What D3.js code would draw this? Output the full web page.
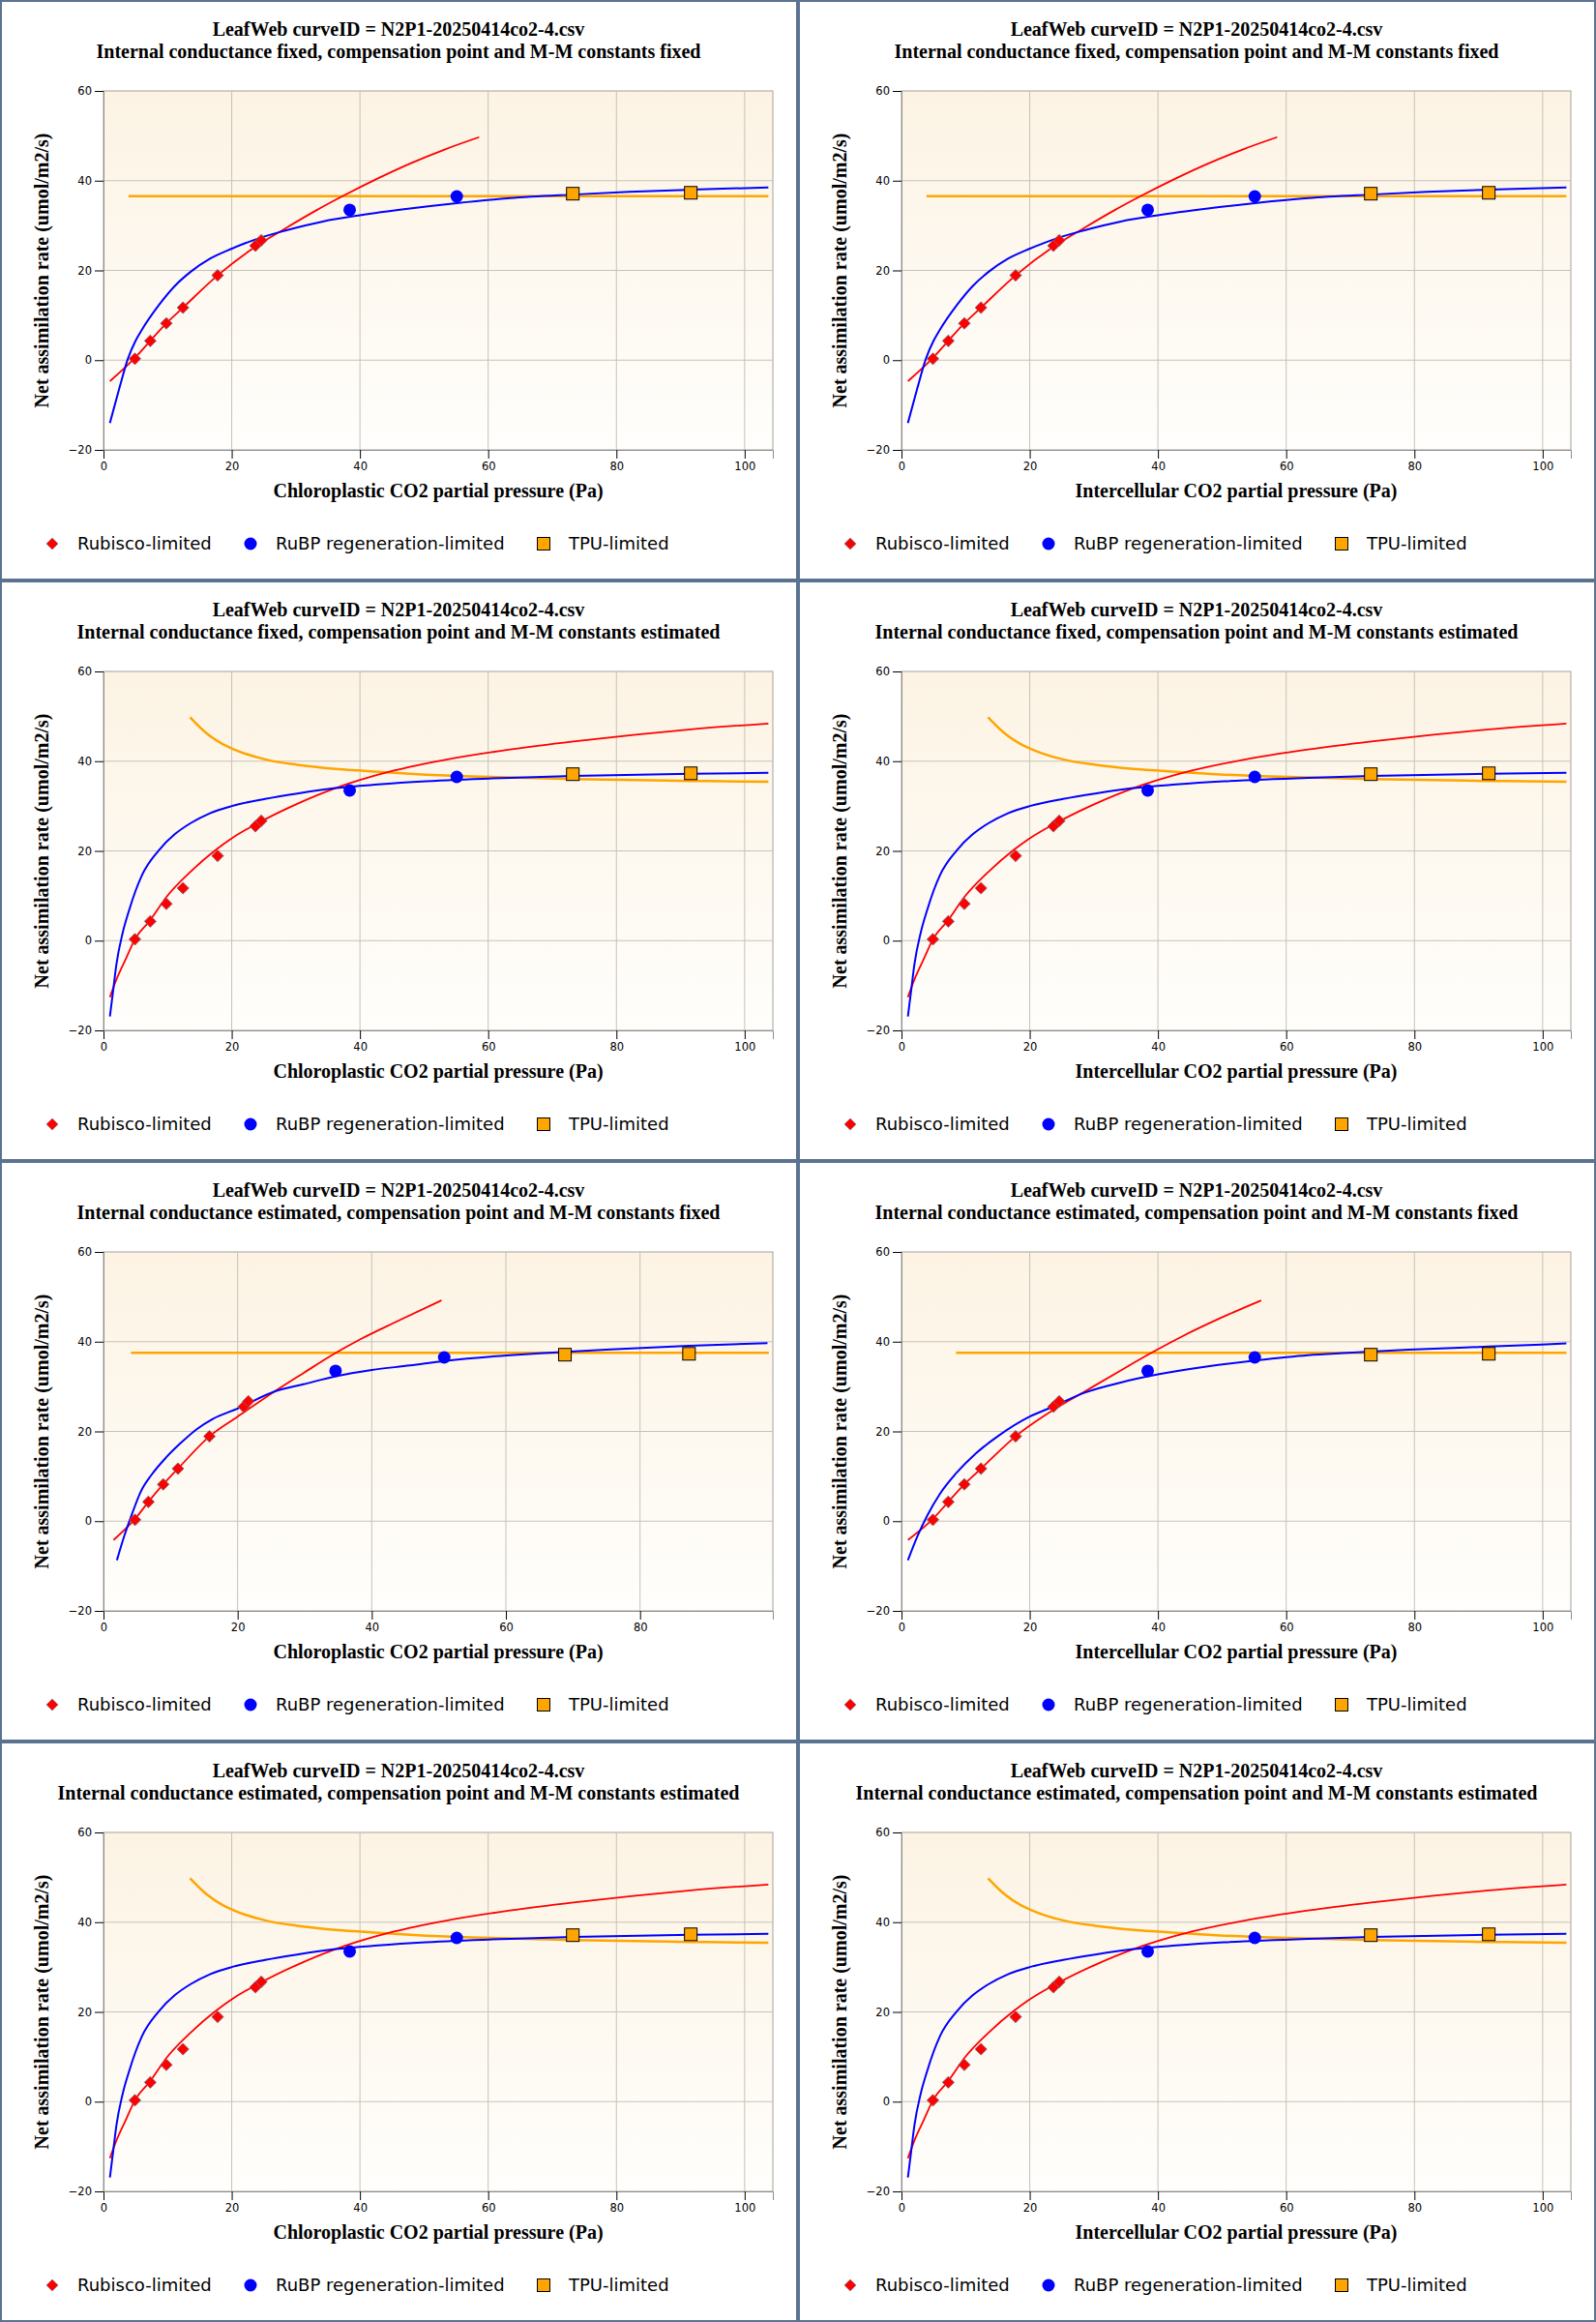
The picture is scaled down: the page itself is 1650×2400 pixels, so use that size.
<!DOCTYPE html>
<html>
<head>
<meta charset="utf-8">
<script src="https://cdn.jsdelivr.net/npm/d3@7"></script>
<style>
  body { margin: 0; padding: 0; background: #fff; }
  svg { display: block; }
</style>
</head>
<body>
<div id="chart"></div>
<script>
"use strict";

const pageW = 1650;
const pageH = 2400;
const panelW = 825;
const panelH = 600;

const titleTop = "LeafWeb curveID = N2P1-20250414co2-4.csv";
const fitTitles = [
  "Internal conductance fixed, compensation point and M-M constants fixed",
  "Internal conductance fixed, compensation point and M-M constants estimated",
  "Internal conductance estimated, compensation point and M-M constants fixed",
  "Internal conductance estimated, compensation point and M-M constants estimated",
];
const xTitles = [
  "Chloroplastic CO2 partial pressure (Pa)",
  "Intercellular CO2 partial pressure (Pa)",
];
const yTitle = "Net assimilation rate (umol/m2/s)";
const legendNames = ["Rubisco-limited", "RuBP regeneration-limited", "TPU-limited"];
const yTicks = [-20, 0, 20, 40, 60];
const xTicks = [0, 20, 40, 60, 80, 100];

// measured points (A is the same in every panel, only the x changes)
const rubiscoA = [0.3, 4.3, 8.2, 11.7, 18.9, 25.5, 26.7];
const rubpA = [33.5, 36.5];
const tpuA = [37.1, 37.3];
const rubiscoCi = [4.9, 7.3, 9.8, 12.4, 17.8, 23.7, 24.6];
const rubpCi = [38.4, 55.1];
const tpuCi = [73.2, 91.6];
const rubiscoCcGm = [4.7, 6.7, 8.9, 11.1, 15.8, 20.9, 21.6];
const rubpCcGm = [34.6, 50.8];
const tpuCcGm = [68.8, 87.3];

// fitted curves, [x, A]
const redFixed = [[1.0, -4.7], [4.9, 0.5], [7.3, 4.3], [9.8, 8.2], [12.4, 11.7], [17.8, 18.9],
  [23.7, 25.3], [28.4, 29.4], [33.2, 33.4], [37.5, 36.7], [42.8, 40.5], [47.8, 43.8],
  [53.3, 47.0], [58.6, 49.7]];
const blueFixed = [[1.0, -14.0], [2.5, -6.1], [3.8, 0.3], [5.0, 4.3], [6.0, 6.8], [8.6, 12.2],
  [11.1, 16.5], [13.6, 19.7], [16.6, 22.6], [20.1, 24.9], [24.1, 27.1], [28.4, 28.9],
  [34.2, 30.9], [40.0, 32.3], [47.8, 33.8], [55.1, 35.0], [63.4, 36.1], [73.2, 36.9],
  [82.0, 37.5], [91.6, 38.0], [103.7, 38.5]];
const orangeFixed = [[3.9, 36.55], [103.7, 36.55]];

const redEst = [[1.0, -12.6], [2.0, -8.7], [3.5, -4.0], [4.9, 0.3], [7.3, 4.6], [9.8, 9.7],
  [13.6, 15.4], [17.4, 20.1], [20.0, 22.8], [24.6, 26.6], [30.2, 30.5], [36.2, 34.0],
  [40.0, 35.8], [45.3, 37.9], [53.3, 40.3], [63.4, 42.6], [73.3, 44.4], [83.0, 45.9],
  [91.6, 47.1], [103.7, 48.4]];
const blueEst = [[1.0, -16.9], [1.5, -11.2], [2.0, -5.4], [3.0, 1.8], [4.0, 6.8], [5.0, 11.1],
  [6.0, 14.6], [8.6, 20.1], [11.1, 23.7], [13.6, 26.2], [16.6, 28.4], [20.0, 30.0],
  [25.2, 31.6], [30.2, 32.8], [36.2, 34.0], [42.8, 34.8], [50.3, 35.5], [63.4, 36.3],
  [73.3, 36.7], [91.6, 37.2], [103.7, 37.4]];
const orangeEst = [[13.5, 49.8], [16.1, 46.2], [18.6, 43.8], [21.1, 42.2], [25.2, 40.4],
  [30.2, 39.2], [36.2, 38.3], [40.2, 37.9], [45.3, 37.4], [50.3, 37.0], [55.3, 36.7],
  [63.4, 36.4], [73.3, 36.0], [91.6, 35.6], [103.7, 35.4]];

const redGmCc = [[1.5, -4.2], [4.7, 0.5], [6.7, 4.3], [8.9, 8.2], [11.1, 11.7], [15.8, 18.9],
  [20.0, 23.3], [25.5, 28.9], [29.8, 33.0], [34.4, 37.3], [38.5, 40.7], [43.3, 44.2],
  [50.4, 49.2]];
const blueGmCc = [[2.0, -8.7], [3.1, -3.3], [4.3, 1.8], [5.5, 6.4], [7.2, 10.4], [9.4, 14.3],
  [11.5, 17.4], [13.9, 20.5], [16.3, 22.8], [20.0, 25.1], [25.5, 28.9], [29.8, 30.5],
  [34.6, 32.3], [40.0, 33.7], [45.7, 34.7], [50.8, 35.7], [60.6, 37.0], [65.0, 37.4],
  [75.6, 38.3], [87.3, 39.1], [99.0, 39.7]];
const orangeGmCc = [[4.1, 37.5], [99.2, 37.5]];

const redGmCi = [[1.0, -4.2], [4.9, 0.5], [7.3, 4.3], [9.8, 8.2], [12.4, 11.7], [17.8, 18.9],
  [23.7, 24.8], [28.7, 29.0], [34.2, 33.6], [38.7, 37.3], [43.8, 41.2], [49.8, 45.3],
  [56.1, 49.2]];
const blueGmCi = [[1.0, -8.7], [2.5, -3.3], [4.0, 1.2], [6.0, 6.1], [8.6, 10.8], [11.6, 15.1],
  [15.1, 19.0], [20.0, 23.3], [23.6, 25.5], [28.7, 28.7], [34.2, 30.9], [40.0, 32.7],
  [47.8, 34.5], [55.1, 35.8], [63.4, 37.0], [69.6, 37.5], [79.1, 38.2], [91.6, 38.9],
  [103.7, 39.6]];
const orangeGmCi = [[8.5, 37.5], [103.7, 37.5]];

const xMaxWide = 104.4;
const xMaxGm = 99.8;

const fixedCi = { ciR: rubiscoCi, ciJ: rubpCi, ciT: tpuCi };
const panels = [
  { fit: 0, axis: 0, xMax: xMaxWide, red: redFixed, blue: blueFixed, orange: orangeFixed, pts: fixedCi },
  { fit: 0, axis: 1, xMax: xMaxWide, red: redFixed, blue: blueFixed, orange: orangeFixed, pts: fixedCi },
  { fit: 1, axis: 0, xMax: xMaxWide, red: redEst, blue: blueEst, orange: orangeEst, pts: fixedCi },
  { fit: 1, axis: 1, xMax: xMaxWide, red: redEst, blue: blueEst, orange: orangeEst, pts: fixedCi },
  { fit: 2, axis: 0, xMax: xMaxGm, red: redGmCc, blue: blueGmCc, orange: orangeGmCc,
    pts: { ciR: rubiscoCcGm, ciJ: rubpCcGm, ciT: tpuCcGm } },
  { fit: 2, axis: 1, xMax: xMaxWide, red: redGmCi, blue: blueGmCi, orange: orangeGmCi, pts: fixedCi },
  { fit: 3, axis: 0, xMax: xMaxWide, red: redEst, blue: blueEst, orange: orangeEst, pts: fixedCi },
  { fit: 3, axis: 1, xMax: xMaxWide, red: redEst, blue: blueEst, orange: orangeEst, pts: fixedCi },
];

const plot = { left: 107, right: 799, top: 94, bottom: 465 };
const serif = "'Liberation Serif', 'Times New Roman', serif";
const sans = "'DejaVu Sans', Verdana, sans-serif";

const svg = d3.select("#chart").append("svg")
  .attr("width", pageW)
  .attr("height", pageH);

const defs = svg.append("defs");
const grad = defs.append("linearGradient")
  .attr("id", "bg")
  .attr("x1", 0).attr("y1", 0).attr("x2", 0).attr("y2", 1);
grad.append("stop").attr("offset", "0%").attr("stop-color", "#fcf3e3");
grad.append("stop").attr("offset", "100%").attr("stop-color", "#fffefc");

svg.append("rect")
  .attr("width", pageW).attr("height", pageH)
  .attr("fill", "#5b7391");

const diamond = d3.symbol().type(d3.symbolSquare).size(74);
const circle = d3.symbol().type(d3.symbolCircle).size(Math.PI * 6.5 * 6.5);

const drawPanel = function (spec, i) {
  const col = i % 2;
  const row = Math.floor(i / 2);
  const g = svg.append("g")
    .attr("transform", `translate(${col * panelW},${row * panelH})`);

  g.append("rect")
    .attr("x", 2).attr("y", 2)
    .attr("width", panelW - 4).attr("height", panelH - 4)
    .attr("fill", "#ffffff");

  // titles
  g.append("text")
    .attr("x", 412).attr("y", 37)
    .attr("text-anchor", "middle")
    .attr("font-family", serif).attr("font-weight", "bold").attr("font-size", "20px")
    .text(titleTop);
  g.append("text")
    .attr("x", 412).attr("y", 60)
    .attr("text-anchor", "middle")
    .attr("font-family", serif).attr("font-weight", "bold").attr("font-size", "20px")
    .text(fitTitles[spec.fit]);

  const x = d3.scaleLinear().domain([0, spec.xMax]).range([plot.left, plot.right]);
  const y = d3.scaleLinear().domain([-20, 60]).range([plot.bottom, plot.top]);

  g.append("rect")
    .attr("x", plot.left).attr("y", plot.top)
    .attr("width", plot.right - plot.left).attr("height", plot.bottom - plot.top)
    .attr("fill", "url(#bg)")
    .attr("stroke", "#a7a29a").attr("stroke-width", 1);

  // grid
  g.append("g").selectAll("line")
    .data(xTicks.filter((t) => t > 0 && t <= spec.xMax))
    .enter().append("line")
    .attr("x1", (d) => x(d)).attr("x2", (d) => x(d))
    .attr("y1", plot.top).attr("y2", plot.bottom)
    .attr("stroke", "#c6c2ba").attr("stroke-width", 1);
  g.append("g").selectAll("line")
    .data(yTicks.filter((t) => t > -20 && t < 60))
    .enter().append("line")
    .attr("x1", plot.left).attr("x2", plot.right)
    .attr("y1", (d) => y(d)).attr("y2", (d) => y(d))
    .attr("stroke", "#c6c2ba").attr("stroke-width", 1);

  // axes
  const xAxis = g.append("g")
    .attr("transform", `translate(0,${plot.bottom})`)
    .call(d3.axisBottom(x).tickValues(xTicks.filter((t) => t <= spec.xMax))
      .tickSize(9).tickPadding(4).tickFormat(d3.format("d")));
  const yAxis = g.append("g")
    .attr("transform", `translate(${plot.left},0)`)
    .call(d3.axisLeft(y).tickValues(yTicks).tickSize(9).tickPadding(3).tickFormat(d3.format("d")));
  [xAxis, yAxis].forEach((a) => {
    a.select(".domain").attr("stroke", "#8f8f8f");
    a.selectAll(".tick line").attr("stroke", "#000");
    a.selectAll(".tick text")
      .attr("font-family", sans).attr("font-size", "11.5px").attr("fill", "#000");
  });

  // axis titles
  g.append("text")
    .attr("x", (plot.left + plot.right) / 2).attr("y", 514)
    .attr("text-anchor", "middle")
    .attr("font-family", serif).attr("font-weight", "bold").attr("font-size", "20px")
    .text(xTitles[spec.axis]);
  g.append("text")
    .attr("transform", `translate(43,${(plot.top + plot.bottom) / 2}) rotate(-90)`)
    .attr("text-anchor", "middle").attr("dy", "0.35em")
    .attr("font-family", serif).attr("font-weight", "bold").attr("font-size", "20px")
    .text(yTitle);

  // fitted curves
  const line = d3.line()
    .x((d) => x(d[0]))
    .y((d) => y(d[1]))
    .curve(d3.curveMonotoneX);
  const curves = g.append("g");
  curves.append("path").datum(spec.orange)
    .attr("d", line).attr("fill", "none")
    .attr("stroke", "#ffa500").attr("stroke-width", 2.5);
  curves.append("path").datum(spec.red)
    .attr("d", line).attr("fill", "none")
    .attr("stroke", "#ff0000").attr("stroke-width", 1.8);
  curves.append("path").datum(spec.blue)
    .attr("d", line).attr("fill", "none")
    .attr("stroke", "#0000ff").attr("stroke-width", 2);

  // measured points
  const pts = g.append("g");
  pts.selectAll(".rub")
    .data(spec.pts.ciR.map((c, k) => [c, rubiscoA[k]]))
    .enter().append("path")
    .attr("class", "rub")
    .attr("d", diamond)
    .attr("transform", (d) => `translate(${x(d[0])},${y(d[1])}) rotate(45)`)
    .attr("fill", "#ff0000").attr("stroke", "#7a6a7a").attr("stroke-width", 0.8);
  pts.selectAll(".rubp")
    .data(spec.pts.ciJ.map((c, k) => [c, rubpA[k]]))
    .enter().append("path")
    .attr("class", "rubp")
    .attr("d", circle)
    .attr("transform", (d) => `translate(${x(d[0])},${y(d[1])})`)
    .attr("fill", "#0000ff");
  pts.selectAll(".tpu")
    .data(spec.pts.ciT.map((c, k) => [c, tpuA[k]]))
    .enter().append("rect")
    .attr("class", "tpu")
    .attr("x", (d) => x(d[0]) - 6.5).attr("y", (d) => y(d[1]) - 6.5)
    .attr("width", 13).attr("height", 13)
    .attr("fill", "#ffa500").attr("stroke", "#000").attr("stroke-width", 1);

  // legend
  const leg = g.append("g").attr("transform", "translate(0,562)");
  const legX = [54, 259, 562];
  leg.append("path").attr("d", diamond)
    .attr("transform", `translate(${legX[0]},0) rotate(45)`)
    .attr("fill", "#ff0000").attr("stroke", "#8a8a9a").attr("stroke-width", 0.8);
  leg.append("path").attr("d", circle)
    .attr("transform", `translate(${legX[1]},0)`)
    .attr("fill", "#0000ff");
  leg.append("rect")
    .attr("x", legX[2] - 6.5).attr("y", -6.5).attr("width", 13).attr("height", 13)
    .attr("fill", "#ffa500").attr("stroke", "#000").attr("stroke-width", 1);
  leg.selectAll("text")
    .data(legendNames)
    .enter().append("text")
    .attr("x", (d, k) => legX[k] + 26)
    .attr("dy", "0.35em")
    .attr("font-family", sans).attr("font-size", "18px").attr("fill", "#000")
    .text((d) => d);
};

panels.forEach(drawPanel);
</script>
</body>
</html>
